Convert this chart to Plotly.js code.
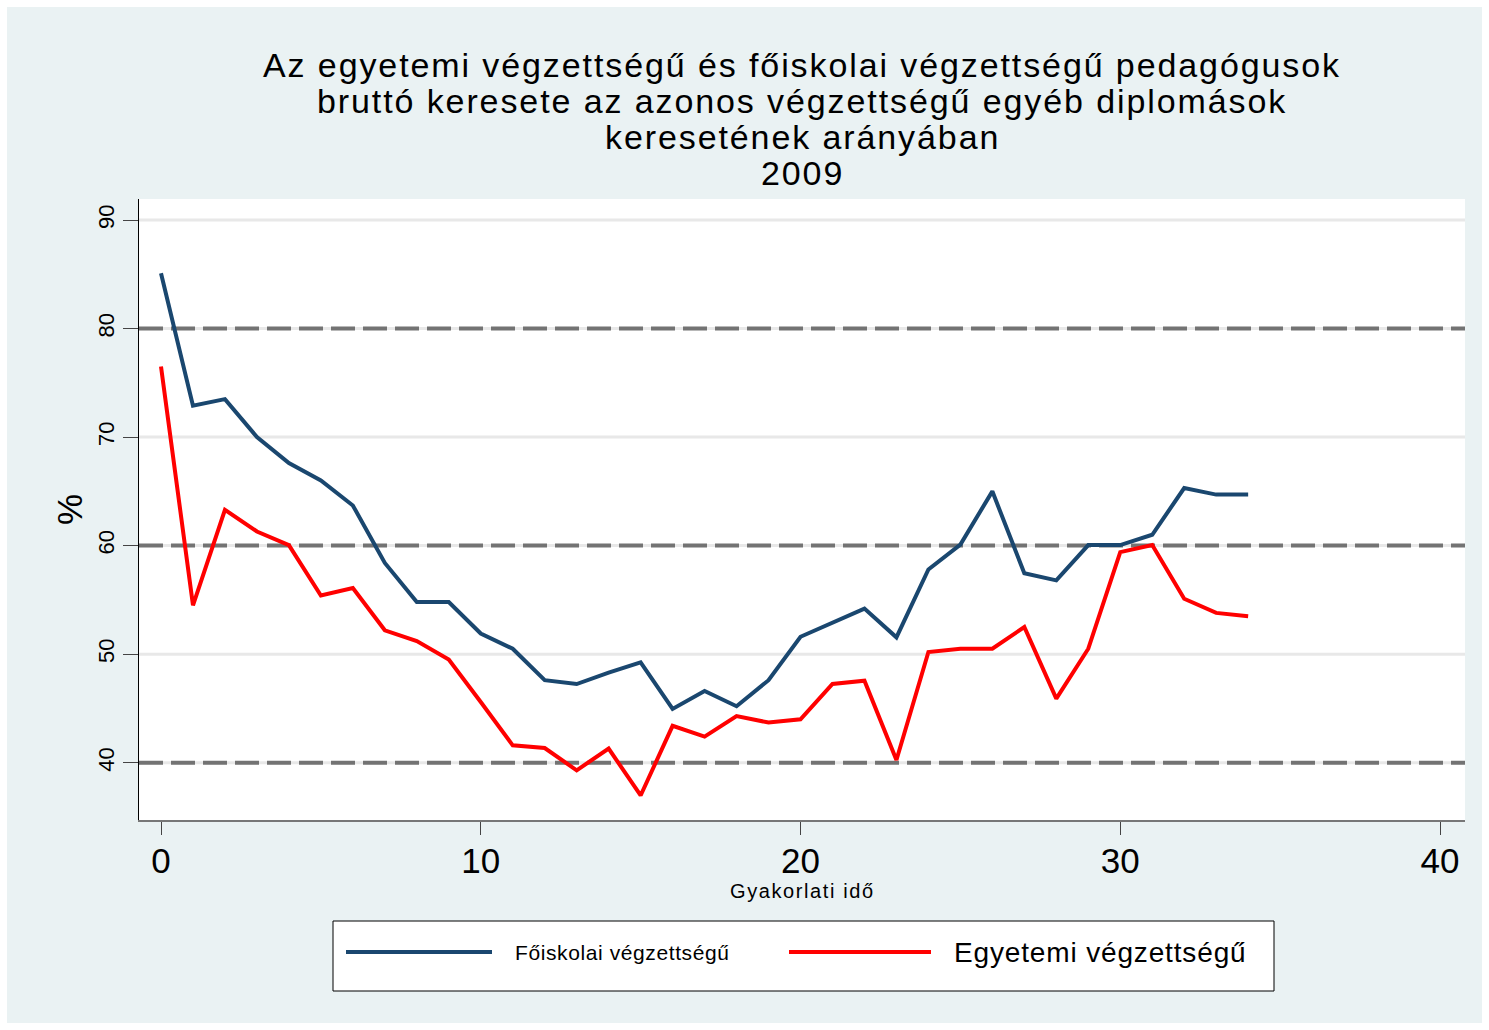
<!DOCTYPE html>
<html>
<head>
<meta charset="utf-8">
<script src="https://cdn.plot.ly/plotly-3.0.1.min.js"></script>
<style>html,body{margin:0;padding:0;background:#fff;}#chart{width:1489px;height:1030px;}</style>
</head>
<body>
<div id="chart"></div>
<script>
// Data
const experience = [0,1,2,3,4,5,6,7,8,9,10,11,12,13,14,15,16,17,18,19,20,21,22,23,24,25,26,27,28,29,30,31,32,33,34];
const foiskolai = [85.1,72.9,73.5,70.0,67.6,66.0,63.7,58.4,54.8,54.8,51.9,50.5,47.6,47.25,48.3,49.25,44.95,46.6,45.2,47.6,51.6,52.9,54.2,51.55,57.8,60.1,65.0,57.45,56.8,60.05,60.05,61.0,65.3,64.7,64.7];
const egyetemi = [76.5,54.5,63.3,61.3,60.05,55.4,56.1,52.2,51.2,49.5,45.6,41.6,41.35,39.3,41.3,36.98,43.4,42.4,44.3,43.7,44.0,47.25,47.55,40.25,50.2,50.5,50.5,52.5,45.9,50.5,59.4,60.05,55.1,53.8,53.5];
const seriesNames = ['Főiskolai végzettségű', 'Egyetemi végzettségű'];
const refLines = [40, 60, 80];
const xTicks = [0, 10, 20, 30, 40];
const yTicks = [40, 50, 60, 70, 80, 90];
const titleLines = ['Az egyetemi végzettségű és főiskolai végzettségű pedagógusok',
                    'bruttó keresete az azonos végzettségű egyéb diplomások',
                    'keresetének arányában',
                    '2009'];
const xTitle = 'Gyakorlati idő';
const yTitle = '%';

// layout geometry helpers (pixel -> paper)
const L = 139, R = 1465, T = 199, B = 820, W = 1489, H = 1030;
const px = v => (v - L) / (R - L);
const py = v => (B - v) / (B - T);
const spaced = (t, s) => '<span style="letter-spacing:' + s + 'px">' + t + '</span>';

const FONT = '"Liberation Sans", Arial, Helvetica, sans-serif';
const BLUE = '#1a476f', RED = '#ff0000';

const traces = [
  {x: experience, y: foiskolai, name: seriesNames[0], type: 'scatter', mode: 'lines',
   line: {color: BLUE, width: 4}, showlegend: false},
  {x: experience, y: egyetemi, name: seriesNames[1], type: 'scatter', mode: 'lines',
   line: {color: RED, width: 4}, showlegend: false}
];

const shapes = [];
// light grid lines
yTicks.forEach(v => shapes.push({type: 'line', xref: 'paper', x0: 0, x1: 1, yref: 'y', y0: v, y1: v,
  line: {color: '#e8e8e8', width: 3}, layer: 'below'}));
// dashed reference lines
refLines.forEach(v => shapes.push({type: 'line', xref: 'paper', x0: 0, x1: 1, yref: 'y', y0: v, y1: v,
  line: {color: '#737373', width: 4, dash: '24px,8px'}, layer: 'below'}));
// legend box
shapes.push({type: 'rect', xref: 'paper', yref: 'paper', x0: px(333), x1: px(1274), y0: py(991), y1: py(921),
  fillcolor: '#ffffff', line: {color: '#000000', width: 1}});
shapes.push({type: 'line', xref: 'paper', yref: 'paper', x0: px(346), x1: px(492), y0: py(952), y1: py(952),
  line: {color: BLUE, width: 4}});
shapes.push({type: 'line', xref: 'paper', yref: 'paper', x0: px(789), x1: px(931), y0: py(952), y1: py(952),
  line: {color: RED, width: 4}});
// white outer frame
shapes.push({type: 'rect', xref: 'paper', yref: 'paper', x0: px(0), x1: px(W), y0: py(H), y1: py(0),
  line: {color: '#ffffff', width: 14}, fillcolor: 'rgba(0,0,0,0)'});

const annotations = [];
const titleY = [65, 101, 137, 173];
titleLines.forEach((t, i) => annotations.push({text: spaced(t, 1.9), xref: 'paper', yref: 'paper', x: px(802), y: py(titleY[i]),
  xanchor: 'center', yanchor: 'middle', showarrow: false, font: {family: FONT, size: 34, color: '#000'}}));
annotations.push({text: spaced(seriesNames[0], 0.6), xref: 'paper', yref: 'paper', x: px(513), y: py(952), xanchor: 'left', yanchor: 'middle',
  showarrow: false, font: {family: FONT, size: 21, color: '#000'}});
annotations.push({text: spaced(seriesNames[1], 0.85), xref: 'paper', yref: 'paper', x: px(952), y: py(952), xanchor: 'left', yanchor: 'middle',
  showarrow: false, font: {family: FONT, size: 28, color: '#000'}});
annotations.push({text: spaced(xTitle, 1.6), xref: 'paper', yref: 'paper', x: px(802), y: py(891), xanchor: 'center', yanchor: 'middle',
  showarrow: false, font: {family: FONT, size: 20, color: '#000'}});

const layout = {
  width: W, height: H,
  margin: {l: L, r: W - R, t: T, b: H - B, pad: 0},
  paper_bgcolor: '#eaf2f3',
  plot_bgcolor: '#ffffff',
  showlegend: false,
  font: {family: FONT, color: '#000'},
  xaxis: {
    range: [(L - 161) / 31.975, (R - 161) / 31.975],
    tickmode: 'array', tickvals: xTicks, ticktext: xTicks.map(String),
    ticks: 'outside', ticklen: 13, tickwidth: 1, tickcolor: '#444',
    ticklabelstandoff: -4,
    showline: true, linecolor: '#777', linewidth: 2,
    showgrid: false, zeroline: false,
    tickfont: {family: FONT, size: 35, color: '#000'}
  },
  yaxis: {
    range: [40 - (B - 762.7) / 10.854, 90 + (220 - T) / 10.854],
    tickmode: 'array', tickvals: yTicks, ticktext: yTicks.map(String),
    ticks: 'outside', ticklen: 15, tickwidth: 1, tickcolor: '#444',
    tickangle: -90,
    showline: true, linecolor: '#000', linewidth: 1,
    showgrid: false, zeroline: false,
    tickfont: {family: FONT, size: 22, color: '#000'},
    title: {text: yTitle, font: {family: FONT, size: 35, color: '#000'}, standoff: 0}
  },
  shapes: shapes,
  annotations: annotations
};

Plotly.newPlot('chart', traces, layout, {displayModeBar: false, staticPlot: true});
</script>
</body>
</html>
